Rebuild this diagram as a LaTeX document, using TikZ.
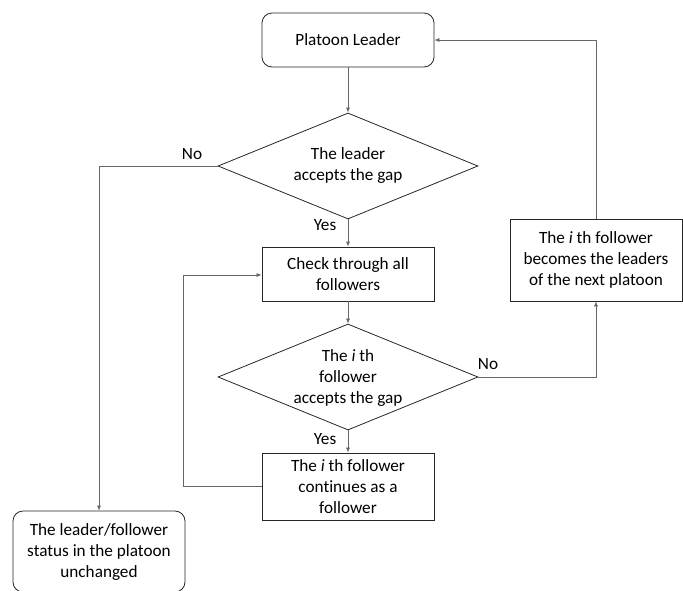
\documentclass[tikz,border=0pt]{standalone}
\usepackage{fontspec}
\setmainfont[RawFeature=-liga]{Carlito}
\usetikzlibrary{shapes.geometric,arrows.meta}
\begin{document}
\begin{tikzpicture}[x=1pt,y=-1pt,
  every node/.style={font=\fontsize{17.2}{21}\selectfont, align=center, text=black},
  box/.style={draw=black!85, line width=0.8pt, minimum width=172pt, inner sep=0pt},
  rbox/.style={box, rounded corners=10pt},
  decision/.style={draw=black!85, line width=0.8pt, diamond, minimum width=260pt, minimum height=106pt, inner sep=0pt},
  conn/.style={draw=black!60, line width=0.6pt, -{Latex[length=5pt,width=4pt]}},
  lbl/.style={inner sep=0pt}]
\path[use as bounding box] (0,0) rectangle (683,590);
\node[rbox, minimum height=54pt] (lead) at (348,40) {Platoon Leader};
\node[decision] (d1) at (348,166) {};
\node at (348,166) {The leader\\accepts the gap};
\node[box, minimum height=54pt] (check) at (348,274) {Check through all\\followers};
\node[decision] (d2) at (348,377) {};
\node at (348,378) {The \textit{i} th\\follower\\accepts the gap};
\node[box, minimum height=67pt] (cont) at (348,486.5) {The \textit{i} th follower\\continues as a\\follower};
\node[box, minimum height=82pt] (next) at (596,260) {The \textit{i} th follower\\becomes the leaders\\of the next platoon};
\node[rbox, minimum height=81pt] (stat) at (99,551.5) {The leader/follower\\status in the platoon\\unchanged};
\node[lbl] at (192,154) {No};
\node[lbl] at (325,225) {Yes};
\node[lbl] at (488,364) {No};
\node[lbl] at (325,439) {Yes};
\coordinate (a1) at (99,166);
\coordinate (a2) at (596,40);
\coordinate (a3) at (596,377);
\coordinate (a4) at (183,486.5);
\coordinate (a5) at (183,275);
\draw[conn] (lead) -- (d1);
\draw[conn] (d1) -- (check);
\draw[conn] (check) -- (d2);
\draw[conn] (d2) -- (cont);
\draw[conn] (d1.west) -- (a1) -- (stat.north);
\draw[conn] (d2.east) -- (a3) -- (next.south);
\draw[conn] (next.north) -- (a2) -- (lead.east);
\draw[conn] (cont.west) -- (a4) -- (a5) -- (check.west |- a5);
\end{tikzpicture}
\end{document}
